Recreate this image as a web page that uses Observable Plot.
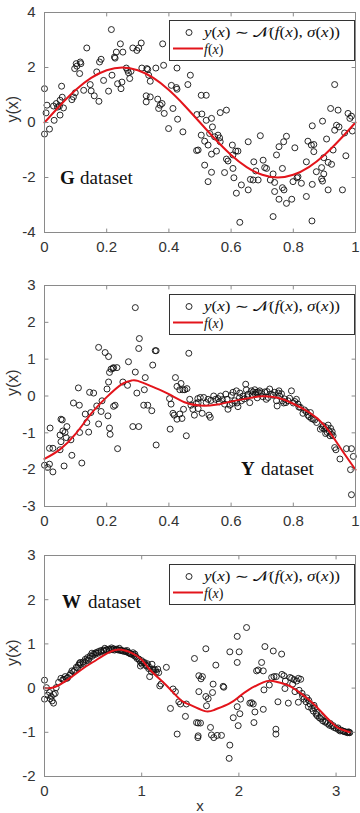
<!DOCTYPE html>
<html>
<head>
<meta charset="utf-8">
<script src="https://cdn.jsdelivr.net/npm/d3@7"></script>
<script src="https://cdn.jsdelivr.net/npm/@observablehq/plot@0.6"></script>
<style>
  html, body { margin: 0; padding: 0; background: #fff; }
  body { width: 360px; height: 813px; overflow: hidden; }
  .panel { position: relative; width: 360px; }
  .panel svg { display: block; }
  .legend { position: absolute; left: 169px; width: 186px; height: 41px; }
</style>
</head>
<body>
<div id="root"></div>
<script>
// ---------- G dataset ----------
const gPoints = [
  [0.000,1.23],[0.008,0.63],[0.005,0.35],[0.000,-0.42],[0.016,-0.24],[0.031,0.08],[0.029,0.60],[0.038,0.69],
  [0.042,0.56],[0.050,0.81],[0.048,0.60],[0.055,1.32],[0.061,0.53],[0.057,0.92],[0.050,0.27],[0.088,0.83],
  [0.093,0.93],[0.099,1.08],[0.097,1.96],[0.102,2.14],[0.104,2.05],[0.113,1.78],[0.117,2.14],[0.115,2.20],
  [0.126,1.17],[0.136,2.71],[0.147,1.38],[0.150,1.15],[0.160,0.97],[0.175,0.77],[0.168,1.84],[0.177,2.20],
  [0.182,2.30],[0.190,1.53],[0.206,1.14],[0.215,3.38],[0.217,1.72],[0.227,2.34],[0.231,2.56],[0.225,2.38],
  [0.235,1.41],[0.244,2.86],[0.246,1.23],[0.252,2.56],[0.249,1.47],[0.263,1.98],[0.267,1.90],[0.270,1.81],
  [0.274,1.60],[0.278,1.86],[0.284,2.71],[0.297,2.62],[0.303,2.71],[0.311,2.89],[0.313,1.98],[0.327,0.97],
  [0.327,0.75],[0.329,1.96],[0.335,1.72],[0.332,1.93],[0.340,0.93],[0.340,1.50],[0.358,1.98],[0.364,0.85],
  [0.367,0.51],[0.372,0.63],[0.378,0.69],[0.380,2.86],[0.383,2.08],[0.385,0.33],[0.399,-0.22],[0.408,1.35],
  [0.413,0.51],[0.424,1.27],[0.426,1.21],[0.426,1.98],[0.428,0.12],[0.445,-0.34],[0.461,1.38],[0.469,1.72],
  [0.490,0.29],[0.494,-1.00],[0.489,-1.02],[0.504,0.99],[0.520,0.99],[0.506,0.31],[0.520,0.08],[0.537,0.15],
  [0.540,-0.16],[0.504,-0.46],[0.531,-0.40],[0.547,-0.52],[0.558,-0.46],[0.563,-0.56],[0.565,0.36],[0.585,0.45],
  [0.515,-0.68],[0.526,-0.82],[0.565,-0.70],[0.537,-1.15],[0.553,-1.04],[0.515,-1.55],[0.537,-1.81],[0.526,-2.15],
  [0.585,-1.33],[0.590,-1.40],[0.604,-0.82],[0.615,-1.04],[0.606,-1.18],[0.622,-1.04],[0.579,-1.82],[0.606,-1.67],
  [0.609,-2.01],[0.617,-2.57],[0.633,-2.27],[0.655,-2.45],[0.628,-3.63],[0.655,-0.70],[0.673,-1.43],[0.679,-1.76],
  [0.694,-0.48],[0.703,-1.37],[0.708,-1.64],[0.714,-1.67],[0.662,-2.07],[0.671,-2.09],[0.687,-2.09],[0.726,-2.09],
  [0.735,-1.87],[0.740,-2.18],[0.735,-3.42],[0.746,-1.18],[0.754,-0.88],[0.765,-1.67],[0.769,-0.70],[0.778,-0.50],
  [0.740,-2.51],[0.754,-2.79],[0.765,-2.37],[0.770,-2.45],[0.778,-2.94],[0.795,-2.79],[0.799,-2.15],[0.805,-0.92],
  [0.812,-2.01],[0.815,-1.97],[0.826,-2.21],[0.842,-2.69],[0.842,-1.43],[0.847,-0.68],[0.858,-0.82],[0.866,-0.80],
  [0.861,-0.12],[0.866,-1.06],[0.861,-2.25],[0.874,-1.79],[0.860,-3.58],[0.891,-1.64],[0.891,-2.05],[0.894,-2.13],
  [0.898,-1.87],[0.898,-1.28],[0.912,-2.45],[0.894,0.05],[0.907,-0.60],[0.912,-1.45],[0.920,0.51],[0.923,-1.52],
  [0.928,-1.00],[0.933,-0.28],[0.933,1.38],[0.944,0.45],[0.947,-0.16],[0.939,-0.10],[0.958,-2.45],[0.969,-1.21],
  [0.965,-0.38],[0.976,0.33],[0.982,0.15],[0.987,0.23],[0.990,-0.31]
];
const gCurveX = [0,0.05,0.1,0.15,0.2,0.25,0.3,0.35,0.4,0.45,0.5,0.55,0.6,0.65,0.7,0.75,0.8,0.85,0.9,0.95,1];
const gCurveY = [0,0.62,1.18,1.62,1.9,2.0,1.9,1.62,1.18,0.62,0,-0.62,-1.18,-1.62,-1.9,-2.0,-1.9,-1.62,-1.18,-0.62,0];
const gXTicks = [0,0.2,0.4,0.6,0.8,1];
const gYTicks = [-4,-2,0,2,4];

// ---------- Y dataset ----------
const yPoints = [
  [0,-1.88],[0.010,-1.94],[0.016,-1.85],[0.027,-2.06],[0.016,-1.42],[0.027,-1.42],[0.018,-0.87],[0.063,-1.90],
  [0.050,-1.46],[0.053,-1.24],[0.050,-1.06],[0.053,-0.63],[0.057,-0.65],[0.059,-0.95],[0.066,-0.99],[0.072,-0.83],
  [0.070,-1.13],[0.085,-1.19],[0.088,-1.61],[0.093,-0.19],[0.112,-0.25],[0.109,0.22],[0.113,-0.99],[0.120,-1.82],
  [0.131,-0.49],[0.136,-0.72],[0.145,0.10],[0.158,0.08],[0.142,-0.98],[0.149,-0.45],[0.168,-0.27],[0.174,1.32],
  [0.182,-0.42],[0.174,-0.76],[0.185,-0.13],[0.195,1.18],[0.206,1.07],[0.201,0.19],[0.206,0.38],[0.209,0.64],
  [0.214,0.73],[0.220,0.75],[0.222,0.77],[0.233,0.77],[0.204,-0.54],[0.209,-0.87],[0.211,-1.04],[0.222,-0.28],
  [0.227,-0.25],[0.235,-1.43],[0.252,0.38],[0.267,0.29],[0.270,0.93],[0.292,2.40],[0.284,-0.83],[0.303,-0.83],
  [0.292,0.65],[0.305,1.56],[0.303,1.29],[0.297,0.08],[0.324,0.50],[0.321,0.17],[0.319,-0.25],[0.332,-0.25],
  [0.345,-0.40],[0.356,1.23],[0.359,1.23],[0.348,0.84],[0.359,-1.33],[0.421,0.50],[0.402,-0.07],[0.407,-0.22],
  [0.404,-0.90],[0.426,0.26],[0.435,0.17],[0.439,0.34],[0.445,0.17],[0.451,0.17],[0.458,0.20],[0.464,1.16],
  [0.456,-1.08],[0.413,-0.47],[0.417,-0.52],[0.426,-0.63],[0.435,-0.49],[0.442,-0.61],[0.447,-0.36],[0.467,-0.09],
  [0.471,-0.25],[0.477,-0.36],[0.482,-0.52],[0.488,-0.20],[0.493,-0.07],
  [0.494,-0.18],[0.494,-0.34],[0.501,-0.04],[0.507,-0.47],[0.512,-0.04],[0.520,-0.18],[0.526,-0.09],[0.529,-0.52],
  [0.533,-0.58],[0.544,0.00],[0.550,-0.09],[0.558,-0.07],[0.566,0.00],[0.572,-0.10],[0.579,-0.22],[0.587,-0.09],
  [0.590,-0.36],[0.596,-0.25],[0.601,0.02],[0.606,0.10],[0.612,-0.13],[0.617,0.14],[0.619,-0.19],[0.622,-0.29],
  [0.627,-0.04],[0.633,-0.13],[0.638,0.00],[0.647,0.32],[0.649,0.17],[0.655,0.05],[0.660,-0.18],[0.665,0.14],
  [0.671,0.11],[0.676,0.17],[0.681,0.10],[0.687,0.11],[0.692,0.14],[0.708,0.11],[0.713,-0.09],[0.719,-0.04],
  [0.724,0.19],[0.729,0.05],[0.740,0.10],[0.746,-0.13],[0.748,-0.27],[0.754,0.14],[0.756,0.00],[0.765,-0.13],
  [0.769,-0.19],[0.776,-0.18],[0.783,-0.13],[0.794,0.14],[0.800,-0.19],[0.810,-0.09],[0.815,-0.22],[0.823,-0.31],
  [0.831,-0.47],[0.842,-0.43],[0.847,-0.52],[0.855,-0.45],[0.858,-0.61],[0.864,-0.63],[0.869,-0.65],[0.887,-0.90],
  [0.896,-0.81],[0.901,-0.90],[0.906,-0.86],[0.912,-0.79],[0.909,-0.99],[0.915,-0.95],[0.918,-1.08],[0.923,-1.04],
  [0.928,-1.08],[0.920,-0.88],[0.933,-1.40],[0.937,-1.46],[0.950,-1.71],[0.971,-1.43],[0.987,-1.43],[0.984,-2.00],
  [0.993,-1.64],[0.987,-2.68],
  [0.535,-0.12],[0.562,-0.16],[0.583,0.05],[0.604,-0.20],[0.628,0.08],[0.642,-0.08],[0.652,-0.02],[0.668,0.03],
  [0.678,0.05],[0.684,-0.05],[0.697,0.08],[0.702,-0.02],[0.716,0.12],[0.735,0.02],[0.752,0.08],[0.762,0.06],
  [0.772,-0.08],[0.788,-0.06],[0.805,-0.15],[0.818,-0.30],[0.836,-0.38],[0.851,-0.56],[0.875,-0.72],[0.893,-0.86],
  [0.904,-1.02],[0.925,-0.97]
];
const yCurveX = [0,0.05,0.1,0.15,0.2,0.25,0.28,0.3,0.35,0.4,0.45,0.5,0.55,0.6,0.65,0.7,0.75,0.8,0.85,0.9,0.95,1];
const yCurveY = [-1.71,-1.45,-1.03,-0.48,-0.03,0.33,0.42,0.41,0.24,0.05,-0.17,-0.26,-0.24,-0.15,-0.07,-0.01,-0.05,-0.21,-0.44,-0.8,-1.39,-2.0];
const yXTicks = [0,0.2,0.4,0.6,0.8,1];
const yYTicks = [-3,-2,-1,0,1,2,3];

// ---------- W dataset ----------
const wPoints = [
  [0.0,0.18],[0.0,-0.25],[0.02,0.01],[0.031,-0.16],[0.052,-0.10],[0.059,-0.24],[0.069,-0.19],[0.079,-0.29],
  [0.093,-0.34],[0.093,-0.14],[0.110,-0.12],[0.120,0.01],[0.145,0.13],[0.169,0.22],[0.189,0.19],[0.213,0.26],
  [0.230,0.22],[0.258,0.29],[0.282,0.39],[0.299,0.37],[0.327,0.47],[0.351,0.52],[0.368,0.58],[0.395,0.59],
  [0.419,0.65],[0.443,0.69],[0.471,0.73],[0.488,0.79],[0.506,0.77],[0.533,0.80],[0.557,0.83],[0.581,0.85],
  [0.609,0.86],[0.636,0.86],[0.660,0.88],[0.684,0.88],[0.712,0.89],[0.739,0.88],[0.763,0.86],[0.787,0.85],
  [0.815,0.83],[0.842,0.82],[0.866,0.80],[0.890,0.77],[0.911,0.80],[0.925,0.73],[0.952,0.67],[0.980,0.62],
  [0.987,0.50],[1.004,0.54],[1.028,0.58],[1.048,0.50],[1.072,0.44],[1.082,0.26],[1.106,0.54],[1.117,0.43],
  [1.141,0.41],[1.165,0.43],[1.175,0.35],[1.186,0.05],[1.199,0.09],[1.254,0.47],[1.296,-0.46],[1.323,-0.02],
  [1.347,-0.08],[1.382,-0.31],[1.399,-0.36],[1.365,-1.04],[1.450,-0.64],[1.460,-0.36],[1.543,0.67],[1.564,-0.78],
  [1.578,-1.12],[1.588,0.28],[1.588,-0.08],
  [0.20,0.20],[0.24,0.24],[0.27,0.33],[0.31,0.40],[0.34,0.46],[0.37,0.53],[0.40,0.56],[0.43,0.62],
  [0.46,0.67],[0.49,0.72],[0.52,0.76],[0.55,0.79],[0.58,0.82],[0.61,0.84],[0.64,0.87],[0.67,0.86],
  [0.70,0.87],[0.72,0.86],[0.75,0.87],[0.78,0.86],[0.80,0.85],[0.83,0.84],[0.86,0.81],[0.88,0.78],
  [0.91,0.76],[0.94,0.71],[0.97,0.66],[1.00,0.62],[1.02,0.57],[1.05,0.52],[1.08,0.47],[1.12,0.40],
  [1.15,0.36],[0.36,0.56],[0.45,0.63],[0.53,0.80],[0.62,0.90],[0.69,0.91],[0.77,0.90],[0.85,0.85],
  [0.93,0.77],[0.99,0.58],[1.06,0.55],[1.10,0.37],
  [2.079,1.37],[1.983,1.17],[1.907,0.82],[2.003,0.82],[1.983,0.58],[1.660,0.89],[1.763,0.52],[1.625,0.26],
  [1.610,0.21],[1.735,0.09],[1.838,0.04],[1.845,0.02],[1.660,-0.19],[1.684,-0.24],[1.667,-0.40],[1.729,-0.10],
  [1.581,-0.79],[1.605,-0.79],[1.581,-1.08],[1.708,-0.89],[1.718,-1.06],[1.742,-1.12],[1.777,-1.07],[1.821,-1.07],
  [1.907,-1.29],[1.900,-1.59],[1.942,-0.67],[1.983,-0.42],[1.993,-0.85],[2.010,-0.58],[2.017,-0.25],[2.113,-0.34],
  [2.131,-0.33],[2.148,-0.36],[2.165,-0.54],[2.155,-0.78],[2.182,0.39],[2.199,0.41],[2.234,0.58],[2.251,0.39],
  [2.268,0.94],[2.354,0.84],[2.440,0.77],[2.258,-0.04],[2.251,-0.48],[2.313,0.07],[2.337,0.24],[2.361,0.26],
  [2.381,-0.93],[2.381,-1.04],[2.385,0.26],[2.402,-0.31],[2.443,0.31],[2.464,0.28],[2.478,0.16],[2.509,-0.34],
  [2.474,-0.01],[2.526,0.24],[2.543,0.22],[2.553,0.09],[2.567,0.19],[2.595,0.16],[2.612,0.22],[2.636,0.20],
  [2.577,-0.08],[2.612,-0.32],[2.656,-0.19],[2.670,-0.25],[2.691,-0.31],[2.715,-0.42],[2.732,-0.36],[2.749,-0.46],
  [2.766,-0.52],[2.773,-0.39],[2.794,-0.59],[2.808,-0.63],[2.828,-0.67],[2.842,-0.69],[2.863,-0.74],[2.887,-0.77],
  [2.911,-0.80],[2.931,-0.84],[2.955,-0.86],[2.979,-0.89],[3.000,-0.91],[3.024,-0.94],[3.041,-0.97],[3.069,-0.97],
  [3.093,-0.99],[3.110,-1.00],[3.127,-0.99],[3.137,-1.00],
  [2.62,-0.05],[2.65,-0.12],[2.70,-0.22],[2.72,-0.28],[2.78,-0.45],[2.80,-0.55],[2.85,-0.65],[2.90,-0.75],
  [2.94,-0.80],[2.97,-0.85],[3.02,-0.90],[3.05,-0.95],[3.08,-0.98],[3.12,-1.01],[3.14,-1.01]
];
const wCurveX = [0,0.1,0.25,0.4,0.5,0.6,0.75,0.9,1.0,1.1,1.25,1.4,1.5,1.65,1.75,1.9,2.0,2.1,2.25,2.35,2.5,2.6,2.75,2.9,3.0,3.05,3.14];
const wCurveY = [0,0.02,0.21,0.45,0.59,0.73,0.87,0.79,0.64,0.38,0.07,-0.27,-0.38,-0.52,-0.49,-0.35,-0.2,-0.04,0.13,0.16,0.07,-0.06,-0.32,-0.66,-0.87,-0.93,-1.0];
const wXTicks = [0,1,2,3];
const wYTicks = [-2,-1,0,1,2,3];

// ---------- styling ----------
const RED = "#e3141b";
const AXIS = "#8a8a8a";
const TEXT = "#333333";
const SANS = "'Liberation Sans', Arial, Helvetica, sans-serif";
const SERIF = "'Liberation Serif', 'DejaVu Serif', 'Times New Roman', serif";

const tickShape = {draw(ctx, l) { ctx.moveTo(0, 0); ctx.lineTo(0, -l); }};

function legendSvg() {
  return `<svg width="186" height="41" xmlns="http://www.w3.org/2000/svg" style="display:block">
    <rect x="0.5" y="0.5" width="185" height="40" fill="white" stroke="#333" stroke-width="1"/>
    <circle cx="20" cy="12.5" r="3" fill="none" stroke="#111" stroke-width="0.9"/>
    <text x="35" y="16.5" font-family="${SERIF}" font-size="14" fill="#111" textLength="136" lengthAdjust="spacingAndGlyphs"><tspan font-style="italic">y</tspan>(<tspan font-style="italic">x</tspan>) ∼ 𝒩(<tspan font-style="italic">f</tspan>(<tspan font-style="italic">x</tspan>), <tspan font-style="italic">σ</tspan>(<tspan font-style="italic">x</tspan>))</text>
    <line x1="4" x2="34" y1="28.5" y2="28.5" stroke="${RED}" stroke-width="2"/>
    <text x="35" y="33.5" font-family="${SERIF}" font-size="14" fill="#111"><tspan font-style="italic">f</tspan>(<tspan font-style="italic">x</tspan>)</text>
  </svg>`;
}

function makePanel(cfg) {
  const wrap = document.createElement("div");
  wrap.className = "panel";
  wrap.style.height = cfg.height + "px";
  const pts = cfg.points.map(([x, y]) => ({x, y}));
  const curve = cfg.curveX.map((x, i) => ({x, y: cfg.curveY[i]}));
  const [x0, x1] = cfg.xDomain;
  const [y0, y1] = cfg.yDomain;
  const tick = {length: 3.5, anchor: "start", shape: tickShape, stroke: AXIS, strokeWidth: 1};
  const marks = [
    Plot.dot(pts, {x: "x", y: "y", r: 3, stroke: "#111", strokeWidth: 0.9, fill: "none"}),
    Plot.line(curve, {x: "x", y: "y", stroke: RED, strokeWidth: 2, curve: "natural"}),
    Plot.frame({stroke: AXIS, strokeWidth: 1}),
    Plot.vector(cfg.xTicks, {x: d => d, y: () => y0, rotate: 0, ...tick}),
    Plot.vector(cfg.xTicks, {x: d => d, y: () => y1, rotate: 180, ...tick}),
    Plot.vector(cfg.yTicks, {y: d => d, x: () => x0, rotate: 90, ...tick}),
    Plot.vector(cfg.yTicks, {y: d => d, x: () => x1, rotate: -90, ...tick}),
    Plot.axisX(cfg.xTicks, {tickSize: 0, tickPadding: 9, tickFormat: d => String(d), label: null, fontSize: 15, fill: TEXT}),
    Plot.axisY(cfg.yTicks, {tickSize: 0, tickPadding: 9, tickFormat: d => String(d), label: null, fontSize: 15, fill: TEXT}),
    Plot.text(["y(x)"], {text: d => d, frameAnchor: "left", dx: -32, rotate: -90, fontSize: 16, fill: TEXT}),
    Plot.text([cfg.tag.letter], {text: d => d, x: () => cfg.tag.x, y: () => cfg.tag.y, textAnchor: "start",
      fontFamily: SERIF, fontWeight: "bold", fontSize: 19, fill: "#111"}),
    Plot.text(["dataset"], {text: d => d, x: () => cfg.tag.x, y: () => cfg.tag.y, dx: cfg.tag.dx, textAnchor: "start",
      fontFamily: SERIF, fontSize: 19, fill: "#111"})
  ];
  if (cfg.xLabel) {
    marks.push(Plot.text([cfg.xLabel], {text: d => d, frameAnchor: "bottom", lineAnchor: "middle", dy: 30, fontSize: 15, fill: TEXT}));
  }
  const svg = Plot.plot({
    width: 360, height: cfg.height,
    marginLeft: 44, marginRight: 5, marginTop: cfg.marginTop, marginBottom: cfg.marginBottom,
    style: {fontFamily: SANS, fontSize: "15px", color: TEXT, background: "white", overflow: "visible"},
    x: {domain: cfg.xDomain, label: null},
    y: {domain: cfg.yDomain, label: null},
    marks
  });
  wrap.appendChild(svg);
  const lg = document.createElement("div");
  lg.className = "legend";
  lg.style.top = cfg.legendTop + "px";
  lg.innerHTML = legendSvg();
  wrap.appendChild(lg);
  return wrap;
}

const root = document.getElementById("root");
root.appendChild(makePanel({
  height: 270, marginTop: 12, marginBottom: 38, legendTop: 20,
  xDomain: [0, 1], yDomain: [-4, 4], xTicks: gXTicks, yTicks: gYTicks,
  points: gPoints, curveX: gCurveX, curveY: gCurveY,
  tag: {letter: "G", x: 0.05, y: -2.0, dx: 20}
}));
root.appendChild(makePanel({
  height: 270, marginTop: 15, marginBottom: 34, legendTop: 24,
  xDomain: [0, 1], yDomain: [-3, 3], xTicks: yXTicks, yTicks: yYTicks,
  points: yPoints, curveX: yCurveX, curveY: yCurveY,
  tag: {letter: "Y", x: 0.632, y: -1.99, dx: 20}
}));
root.appendChild(makePanel({
  height: 273, marginTop: 15, marginBottom: 37, legendTop: 24,
  xDomain: [0, 3.2], yDomain: [-2, 3], xTicks: wXTicks, yTicks: wYTicks,
  points: wPoints, curveX: wCurveX, curveY: wCurveY,
  tag: {letter: "W", x: 0.18, y: 1.94, dx: 26},
  xLabel: "x"
}));
</script>
</body>
</html>
